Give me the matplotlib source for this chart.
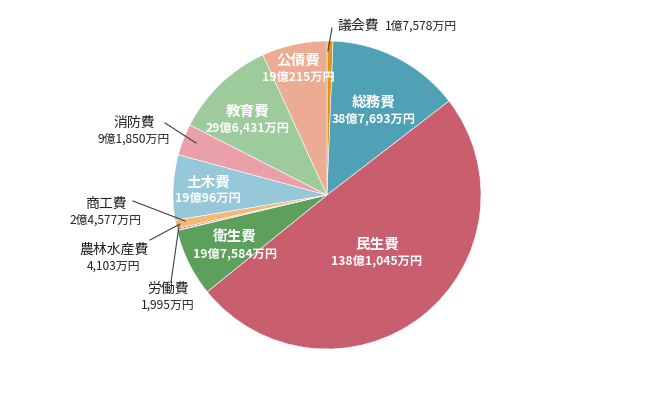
import numpy as np
import matplotlib
matplotlib.use("Agg")
import matplotlib.pyplot as plt

plt.rcParams['font.family'] = ['Noto Sans CJK JP', 'DejaVu Sans']

# ── data (万円) ─────────────────────────────────────────
categories = ["議会費", "総務費", "民生費", "衛生費", "労働費", "農林水産費",
              "商工費", "土木費", "消防費", "教育費", "公債費"]
values = [17578, 387693, 1381045, 197584, 1995, 4103,
          24577, 190096, 91850, 296431, 190215]
value_labels = ["1億7,578万円", "38億7,693万円", "138億1,045万円", "19億7,584万円",
                "1,995万円", "4,103万円", "2億4,577万円", "19億96万円",
                "9億1,850万円", "29億6,431万円", "19億215万円"]
colors = ["#E09614", "#50A0B6", "#C85E6E", "#5CA05C", "#4F6FA8", "#C0504D",
          "#F4B878", "#96C8DA", "#EAA0A8", "#9ECB9C", "#ECAC94"]

# pixel geometry of reference
CX, CY, R = 327, 196, 154
W, H = 650, 410


def px(x, y):
    return (x - CX) / R, (CY - y) / R


fig = plt.figure(figsize=(6.5, 4.1), dpi=100)
ax = fig.add_axes([0, 0, 1, 1])

wedges, _ = ax.pie(values, colors=colors, startangle=90, counterclock=False,
                   radius=1.0, center=(0, 0),
                   wedgeprops=dict(linewidth=0.4, edgecolor="white"))
ax.set_xlim(-CX / R, (W - CX) / R)
ax.set_ylim((CY - H) / R, CY / R)
ax.set_aspect("auto")
ax.axis("off")


def label(i, x, y, color, bold, name_fs, val_fs, gap=17):
    xd, yd = px(x, y - gap / 2)
    ax.text(xd, yd, categories[i], color=color, fontsize=name_fs,
            fontweight="bold" if bold else "normal", ha="center", va="center")
    xd, yd = px(x, y + gap / 2)
    ax.text(xd, yd, value_labels[i], color=color, fontsize=val_fs,
            fontweight="bold" if bold else "normal", ha="center", va="center")


# inside labels (white, bold)
inside = {1: (374, 110), 2: (377, 252), 3: (235, 245), 7: (208, 190),
          9: (248, 119), 10: (298, 69)}
for i, (x, y) in inside.items():
    label(i, x, y, "white", True, 10.5, 8.8)

# outside labels with leader lines: text pos, line start, line end
outside = {
    8: ((134, 131), (165, 124), (196, 144)),
    6: ((106, 212), (133, 202), (185, 222)),
    5: ((114, 258), (150, 241), (180, 225)),
    4: ((168, 297), (171, 283), (179, 227)),
}
for i, (tp, l0, l1) in outside.items():
    label(i, tp[0], tp[1], "#222222", False, 10, 8.6)
    a, b = px(*l0)
    c, d = px(*l1)
    ax.plot([a, c], [b, d], color="#404040", lw=0.8)

# 議会費 label on one line
xd, yd = px(338, 26)
t = ax.text(xd, yd, categories[0], color="#222222", fontsize=10,
            ha="left", va="center")
xd2, _ = px(385, 26)
ax.text(xd2, yd, value_labels[0], color="#222222", fontsize=8.6,
        ha="left", va="center")
a, b = px(332, 29)
c, d = px(328, 52)
ax.plot([a, c], [b, d], color="#404040", lw=0.8)

fig.savefig("out.png", dpi=100)
